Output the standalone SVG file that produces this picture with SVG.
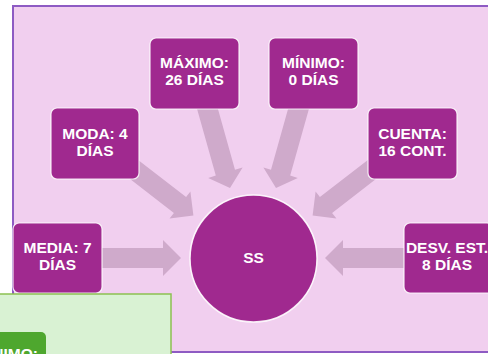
<svg xmlns="http://www.w3.org/2000/svg" width="488" height="354" viewBox="0 0 488 354">
<style>
.node rect{fill:#a0298f;stroke:#ffffff;stroke-width:1.2;stroke-opacity:0.85}
.node circle{fill:#a0298f;stroke:#ffffff;stroke-width:1.5;stroke-opacity:0.9}
.lbl{font-family:"Liberation Sans",Arial,sans-serif;font-weight:bold;font-size:15.5px;fill:#ffffff;text-anchor:middle}
.arr{fill:#cfaacb}
</style>
<rect x="13" y="6" width="480" height="346" fill="#f1cfef" stroke="#8e5bc3" stroke-width="2"/>
<g id="connectors">
<polygon class="arr" points="100,248 163,248 163,240 181,258 163,276 163,268 100,268"/>
<polygon class="arr" points="406,248 343,248 343,240 325,258 343,276 343,268 406,268"/>
<polygon class="arr" points="110.7,164.1 173.9,212.9 169.6,218.4 193.4,215.4 190.4,191.6 186.1,197.1 122.9,148.3"/>
<polygon class="arr" points="395.3,164.1 332.1,212.9 336.4,218.4 312.6,215.4 315.6,191.6 319.9,197.1 383.1,148.3"/>
<polygon class="arr" points="195.4,102.9 215.8,175.6 208.2,177.9 230,188 242.6,167.5 235,169.8 214.6,97.1"/>
<polygon class="arr" points="310.6,102.9 290.2,175.6 297.8,177.9 276,188 263.4,167.5 271,169.8 291.4,97.1"/>
</g>
<g id="node-maximo" class="node"><rect x="150" y="38" width="89" height="71" rx="6"/><text class="lbl" x="194.5" y="68">MÁXIMO:</text><text class="lbl" x="194.5" y="85">26 DÍAS</text></g>
<g id="node-minimo" class="node"><rect x="269" y="38" width="89" height="71" rx="6"/><text class="lbl" x="313.5" y="68">MÍNIMO:</text><text class="lbl" x="313.5" y="85">0 DÍAS</text></g>
<g id="node-moda" class="node"><rect x="51" y="108" width="88" height="71" rx="6"/><text class="lbl" x="95" y="139">MODA: 4</text><text class="lbl" x="95" y="156">DÍAS</text></g>
<g id="node-cuenta" class="node"><rect x="368" y="108" width="89" height="71" rx="6"/><text class="lbl" x="412.5" y="139">CUENTA:</text><text class="lbl" x="412.5" y="156">16 CONT.</text></g>
<g id="node-media" class="node"><rect x="13" y="223" width="89" height="70" rx="6"/><text class="lbl" x="57.5" y="253">MEDIA: 7</text><text class="lbl" x="57.5" y="270">DÍAS</text></g>
<g id="node-desv" class="node"><rect x="404" y="223" width="89" height="70" rx="6"/><text class="lbl" x="447" y="253">DESV. EST.</text><text class="lbl" x="447" y="270">8 DÍAS</text></g>
<g id="node-ss" class="node"><circle cx="253.5" cy="258.5" r="63.5"/><text class="lbl" x="253.5" y="263">SS</text></g>
<g id="panel-green">
<rect x="-2" y="294" width="173" height="70" fill="#d9f2d3" stroke="#8cc152" stroke-width="1.5"/>
<rect x="-10" y="332" width="56" height="40" rx="5" fill="#4ea72e"/>
<text class="lbl" x="38" y="359" style="text-anchor:end">MÍNIMO:</text>
</g>
</svg>
